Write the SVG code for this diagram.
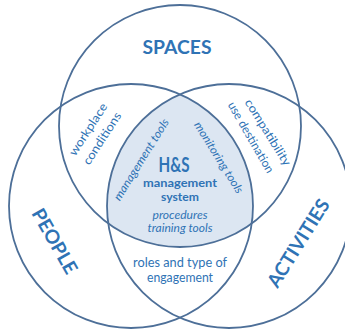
<svg xmlns="http://www.w3.org/2000/svg" width="345" height="329" viewBox="0 0 345 329">
  <style>
    .ring { fill: none; stroke: #4d6f98; stroke-width: 1.8; }
    .core { fill: #dce6f2; }
    text { font-family: Lato, "Open Sans", "Liberation Sans", sans-serif; fill: #2f73b5; text-anchor: middle; }
    .big { font-size: 19px; font-weight: bold; }
    .hs { font-size: 20px; font-weight: bold; }
    .bold { font-size: 12px; font-weight: bold; }
    .it { font-size: 11.5px; font-style: italic; }
    .small { font-size: 12px; }
    .body { font-size: 12.5px; }
  </style>
  <defs>
    <clipPath id="clip-people"><circle cx="131" cy="206" r="122"/></clipPath>
    <clipPath id="clip-activities"><circle cx="229" cy="206" r="122"/></clipPath>
  </defs>

  <!-- shared region of the three sets -->
  <g id="core-region" clip-path="url(#clip-people)">
    <g clip-path="url(#clip-activities)">
      <circle class="core" cx="180" cy="126" r="121"/>
    </g>
  </g>

  <g id="connectors">
    <circle id="ring-spaces" class="ring" cx="180" cy="126" r="121"/>
    <circle id="ring-people" class="ring" cx="131" cy="206" r="122"/>
    <circle id="ring-activities" class="ring" cx="229" cy="206" r="122"/>
  </g>

  <g id="spaces">
    <text class="big" x="177" y="54" textLength="69" lengthAdjust="spacingAndGlyphs">SPACES</text>
  </g>

  <g id="people">
    <text class="big" transform="translate(55,241) rotate(60)" x="0" y="7" textLength="72" lengthAdjust="spacingAndGlyphs">PEOPLE</text>
  </g>

  <g id="activities">
    <text class="big" transform="translate(298,243) rotate(-58)" x="0" y="7" textLength="100" lengthAdjust="spacingAndGlyphs">ACTIVITIES</text>
  </g>

  <g id="spaces-people">
    <text class="small" transform="translate(89,130) rotate(-57)" x="0" y="3" textLength="60" lengthAdjust="spacingAndGlyphs">workplace</text>
    <text class="small" transform="translate(103,139) rotate(-57)" x="0" y="3" textLength="60" lengthAdjust="spacingAndGlyphs">conditions</text>
  </g>

  <g id="spaces-activities">
    <text class="small" transform="translate(267,133) rotate(58)" x="0" y="3" textLength="76" lengthAdjust="spacingAndGlyphs">compatibility</text>
    <text class="small" transform="translate(250,138) rotate(60)" x="0" y="3" textLength="80" lengthAdjust="spacingAndGlyphs">use destination</text>
  </g>

  <g id="people-activities">
    <text class="body" x="180" y="267" textLength="94" lengthAdjust="spacingAndGlyphs">roles and type of</text>
    <text class="body" x="180" y="282" textLength="66" lengthAdjust="spacingAndGlyphs">engagement</text>
  </g>

  <g id="hs-system">
    <text class="hs" x="174" y="172" textLength="31" lengthAdjust="spacingAndGlyphs">H&amp;S</text>
    <text class="bold" x="180" y="187" textLength="74" lengthAdjust="spacingAndGlyphs">management</text>
    <text class="bold" x="180" y="201" textLength="38" lengthAdjust="spacingAndGlyphs">system</text>
    <text class="it" transform="translate(142,160) rotate(-58)" x="0" y="3" textLength="94" lengthAdjust="spacingAndGlyphs">management tools</text>
    <text class="it" transform="translate(218,158) rotate(58)" x="0" y="3" textLength="82" lengthAdjust="spacingAndGlyphs">monitoring tools</text>
    <text class="it" x="180" y="219" textLength="55" lengthAdjust="spacingAndGlyphs">procedures</text>
    <text class="it" x="180" y="232" textLength="65" lengthAdjust="spacingAndGlyphs">training tools</text>
  </g>
</svg>
